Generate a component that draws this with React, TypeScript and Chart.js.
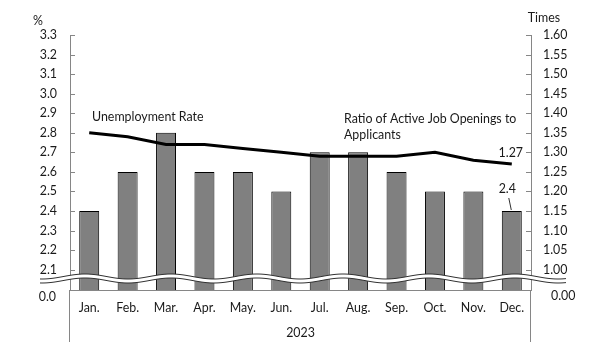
import React, { useEffect, useRef } from "react";
import { Chart, registerables } from "chart.js";

Chart.register(...registerables);

// ---- data ----
const months = ["Jan.", "Feb.", "Mar.", "Apr.", "May.", "Jun.", "Jul.", "Aug.", "Sep.", "Oct.", "Nov.", "Dec."];
const yearLabel = "2023";
const unemploymentRate = [2.4, 2.6, 2.8, 2.6, 2.6, 2.5, 2.7, 2.7, 2.6, 2.5, 2.5, 2.4];
const jobOpeningsRatio = [1.35, 1.34, 1.32, 1.32, 1.31, 1.3, 1.29, 1.29, 1.29, 1.3, 1.28, 1.27];
const leftTicks = [2.1, 2.2, 2.3, 2.4, 2.5, 2.6, 2.7, 2.8, 2.9, 3.0, 3.1, 3.2, 3.3];
const rightTicks = [1.0, 1.05, 1.1, 1.15, 1.2, 1.25, 1.3, 1.35, 1.4, 1.45, 1.5, 1.55, 1.6];
const leftBreakLabel = "0.0";
const rightBreakLabel = "0.00";
const leftUnit = "%";
const rightUnit = "Times";
const unemploymentLabel = "Unemployment Rate";
const ratioLabelLines = ["Ratio of Active Job Openings to", "Applicants"];

const FONT = "Lato";
const FS = 12.4;
const TEXT = "#1a1a1a";
const AXIS = "#868686";

const decorPlugin = {
  id: "decor",
  afterDatasetsDraw(chart: any) {
    const { ctx, chartArea: a, scales } = chart;
    const y = scales.y;
    const y1 = scales.y1;
    ctx.save();
    // inside tick marks
    ctx.strokeStyle = AXIS;
    ctx.lineWidth = 1;
    leftTicks.forEach((v) => {
      const py = Math.round(y.getPixelForValue(v)) + 0.5;
      ctx.beginPath();
      ctx.moveTo(a.left, py);
      ctx.lineTo(a.left + 5, py);
      ctx.stroke();
    });
    rightTicks.forEach((v) => {
      const py = Math.round(y1.getPixelForValue(v)) + 0.5;
      ctx.beginPath();
      ctx.moveTo(a.right - 5, py);
      ctx.lineTo(a.right, py);
      ctx.stroke();
    });
    // axis break (wavy band)
    const cy = a.bottom - 11.5;
    const x0 = 40;
    const x1 = 566;
    const amp = 2.5;
    const period = 86;
    const phase = 343;
    const wave = (px: number, off: number) => cy + off - amp * Math.cos((2 * Math.PI * (px - phase)) / period);
    ctx.beginPath();
    ctx.moveTo(x0, wave(x0, -2));
    for (let px = x0; px <= x1; px++) ctx.lineTo(px, wave(px, -2));
    for (let px = x1; px >= x0; px--) ctx.lineTo(px, wave(px, 2));
    ctx.closePath();
    ctx.fillStyle = "#ffffff";
    ctx.fill();
    ctx.strokeStyle = "#303030";
    [-2, 2].forEach((off) => {
      ctx.beginPath();
      ctx.moveTo(x0, wave(x0, off));
      for (let px = x0; px <= x1; px++) ctx.lineTo(px, wave(px, off));
      ctx.stroke();
    });
    ctx.restore();
  },
  afterDraw(chart: any) {
    const { ctx, chartArea: a, scales } = chart;
    const x = scales.x;
    const y = scales.y;
    const y1 = scales.y1;
    ctx.save();
    // group axis lines
    ctx.strokeStyle = AXIS;
    ctx.lineWidth = 1;
    [a.left, a.right].forEach((px: number) => {
      const xx = Math.round(px) - 0.5;
      ctx.beginPath();
      ctx.moveTo(xx, a.bottom);
      ctx.lineTo(xx, a.bottom + 52);
      ctx.stroke();
    });
    ctx.fillStyle = TEXT;
    ctx.font = `${FS}px ${FONT}`;
    ctx.textBaseline = "middle";
    ctx.textAlign = "center";
    ctx.fillText(yearLabel, (a.left + a.right) / 2, a.bottom + 43);
    ctx.fillText(leftUnit, 38, 21);
    ctx.fillText(rightUnit, 544, 18);
    ctx.textAlign = "right";
    ctx.fillText(leftBreakLabel, a.left - 14, a.bottom + 6.5);
    ctx.textAlign = "left";
    ctx.fillText(rightBreakLabel, a.right + 20, a.bottom + 6);
    // series annotations
    ctx.fillText(unemploymentLabel, 92, 117);
    ctx.fillText(ratioLabelLines[0], 344, 119);
    ctx.fillText(ratioLabelLines[1], 344, 135);
    // last-value labels
    const last = months.length - 1;
    const cx = x.getPixelForValue(last);
    const lineY = y1.getPixelForValue(jobOpeningsRatio[last]);
    ctx.textAlign = "center";
    ctx.fillText(jobOpeningsRatio[last].toFixed(2), cx - 1, lineY - 11.5);
    const barTop = y.getPixelForValue(unemploymentRate[last]);
    ctx.fillText(unemploymentRate[last].toFixed(1), cx - 4.5, barTop - 21.5);
    ctx.strokeStyle = "#303030";
    ctx.beginPath();
    ctx.moveTo(cx - 3, barTop - 13);
    ctx.lineTo(cx - 0.5, barTop - 1);
    ctx.stroke();
    ctx.restore();
  },
};

export default function App() {
  const ref = useRef<HTMLCanvasElement | null>(null);
  useEffect(() => {
    if (!ref.current) return;
    const chart = new Chart(ref.current, {
      type: "bar",
      data: {
        labels: months,
        datasets: [
          {
            type: "line",
            label: "Ratio",
            data: jobOpeningsRatio,
            yAxisID: "y1",
            borderColor: "#000000",
            borderWidth: 3,
            pointRadius: 0,
            tension: 0,
            order: 0,
          } as any,
          {
            type: "bar",
            label: "Unemployment",
            data: unemploymentRate,
            yAxisID: "y",
            backgroundColor: "#808080",
            borderColor: "#000000",
            borderWidth: 1,
            barPercentage: 0.52,
            categoryPercentage: 1,
            order: 1,
          } as any,
        ],
      },
      options: {
        responsive: false,
        animation: false,
        layout: { padding: { top: 35, left: 0, right: 0, bottom: 0 } },
        plugins: { legend: { display: false }, tooltip: { enabled: false } },
        scales: {
          x: {
            grid: { display: false, drawTicks: false },
            border: { display: true, color: AXIS },
            ticks: { color: TEXT, font: { family: FONT, size: FS }, padding: 11, maxRotation: 0, autoSkip: false },
            afterFit: (s: any) => {
              s.height = 65;
            },
          },
          y: {
            position: "left",
            min: 1.996,
            max: 3.3,
            grid: { display: false, drawTicks: false },
            border: { display: true, color: AXIS },
            afterBuildTicks: (s: any) => {
              s.ticks = leftTicks.map((v) => ({ value: v }));
            },
            ticks: {
              color: TEXT,
              font: { family: FONT, size: FS },
              padding: 13,
              callback: (v: any) => Number(v).toFixed(1),
            },
            afterFit: (s: any) => {
              s.width = 70;
            },
          },
          y1: {
            position: "right",
            min: 0.948,
            max: 1.6,
            grid: { display: false, drawTicks: false },
            border: { display: true, color: AXIS },
            afterBuildTicks: (s: any) => {
              s.ticks = rightTicks.map((v) => ({ value: v }));
            },
            ticks: {
              color: TEXT,
              font: { family: FONT, size: FS },
              padding: 12,
              callback: (v: any) => Number(v).toFixed(2),
            },
            afterFit: (s: any) => {
              s.width = 74;
            },
          },
        },
      },
      plugins: [decorPlugin],
    });
    return () => chart.destroy();
  }, []);
  return (
    <div style={{ position: "fixed", left: 0, top: 0, width: 605, height: 355, background: "#fff" }}>
      <canvas ref={ref} width={605} height={355} style={{ display: "block" }} />
    </div>
  );
}
